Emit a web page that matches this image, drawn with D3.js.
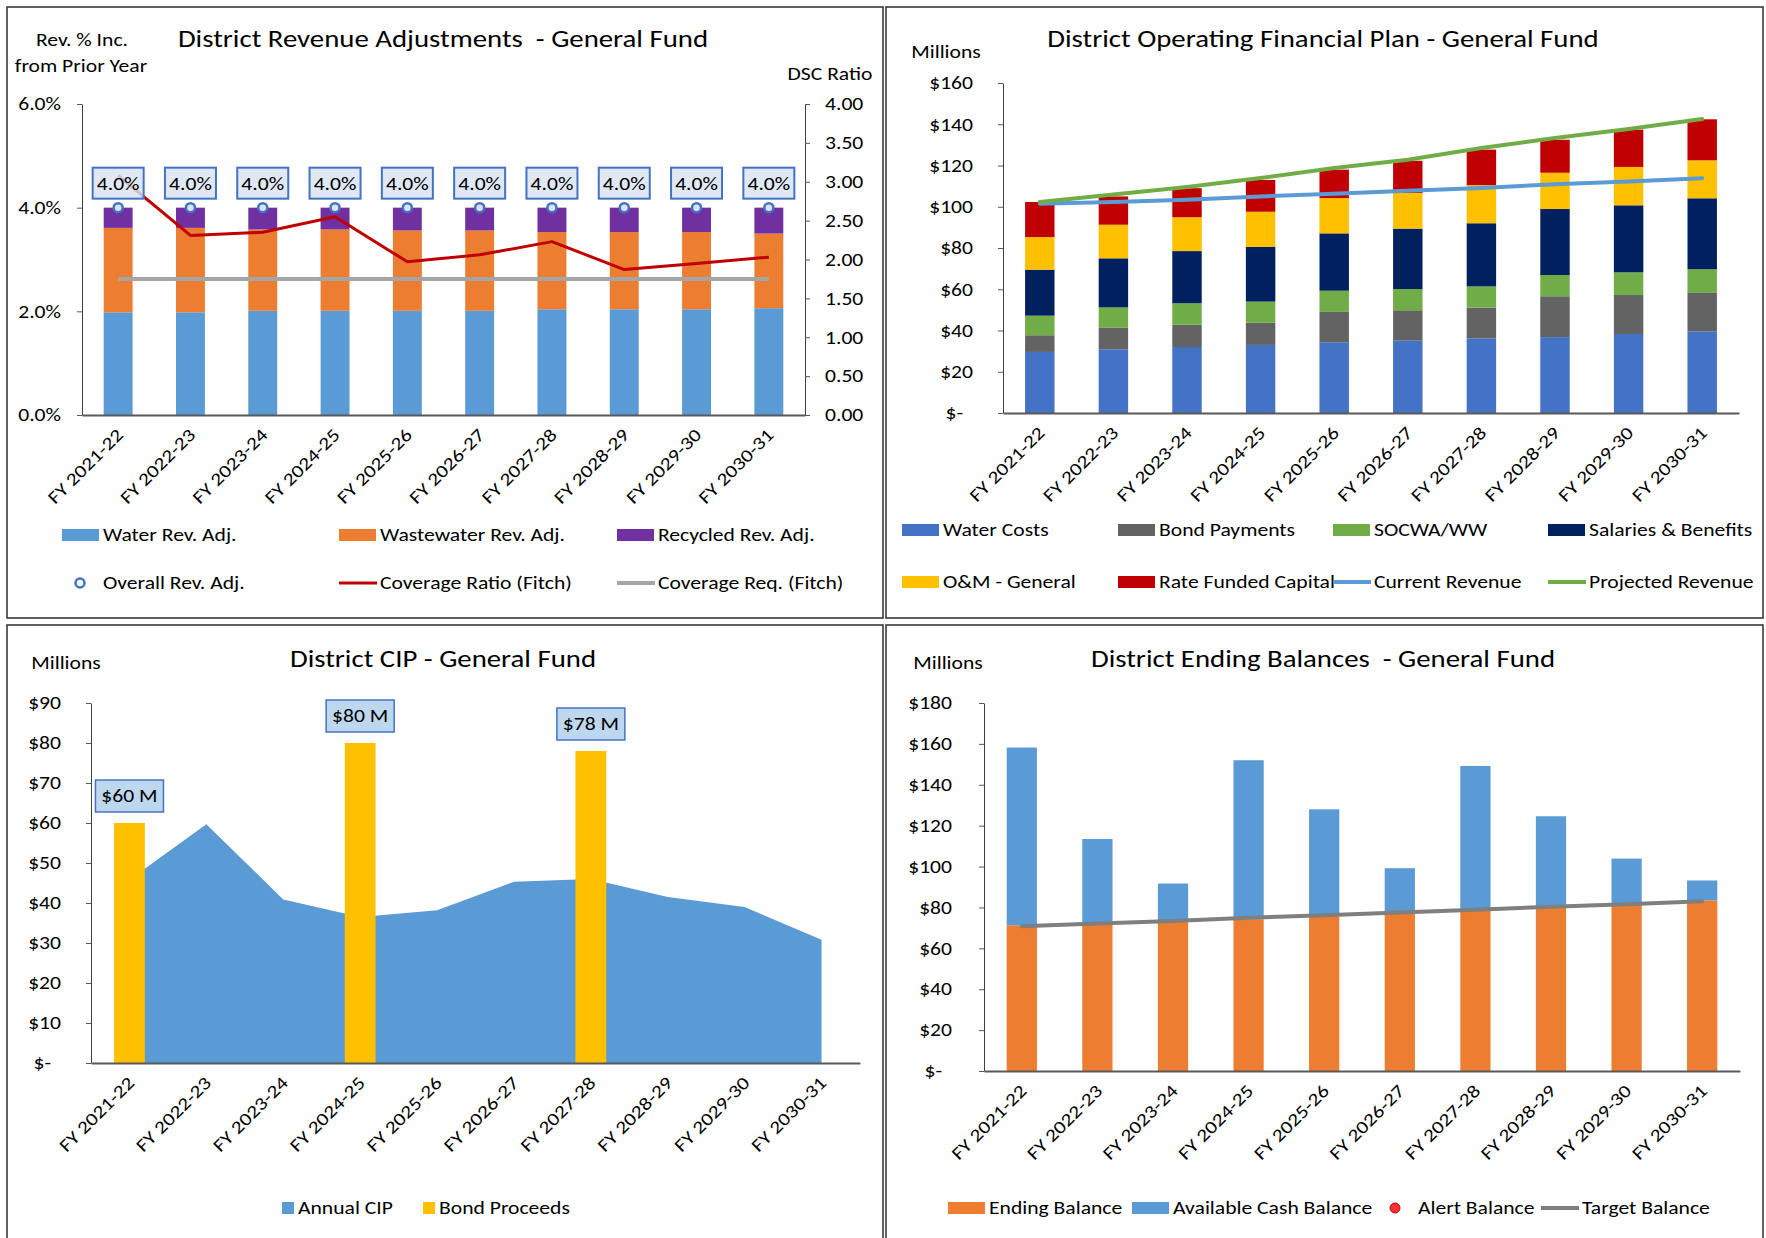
<!DOCTYPE html>
<html lang="en">
<head>
<meta charset="UTF-8" />
<title>District Financial Plan - General Fund</title>
<script src="https://d3js.org/d3.v7.min.js"></script>
<style>
  body { margin: 0; background: #fff; }
  svg { display: block; font-family: Calibri, Carlito, Lato, sans-serif; }
</style>
</head>
<body>
<svg width="1766" height="1238"></svg>
<script>
const years = ["FY 2021-22", "FY 2022-23", "FY 2023-24", "FY 2024-25", "FY 2025-26",
               "FY 2026-27", "FY 2027-28", "FY 2028-29", "FY 2029-30", "FY 2030-31"];

// revenue adjustments (% increase)
const waterAdj      = [1.98, 1.98, 2.01, 2.01, 2.01, 2.01, 2.04, 2.04, 2.04, 2.06];
const wastewaterAdj = [1.63, 1.63, 1.57, 1.57, 1.55, 1.55, 1.49, 1.49, 1.49, 1.44];
const recycledAdj   = [0.39, 0.39, 0.42, 0.42, 0.44, 0.44, 0.47, 0.47, 0.47, 0.50];
const overallAdj    = [4.0, 4.0, 4.0, 4.0, 4.0, 4.0, 4.0, 4.0, 4.0, 4.0];
const coverageRatio = [3.08, 2.31, 2.35, 2.55, 1.97, 2.06, 2.23, 1.87, 1.95, 2.03];
const coverageReq   = [1.75, 1.75, 1.75, 1.75, 1.75, 1.75, 1.75, 1.75, 1.75, 1.75];
const pctTicks = [0, 2, 4, 6];
const dscTicks = [0, 0.5, 1, 1.5, 2, 2.5, 3, 3.5, 4];

// operating plan ($M)
const waterCosts   = [29.6, 30.9, 32.0, 33.0, 34.3, 35.1, 36.2, 36.8, 38.3, 39.6];
const bondPayments = [8.1, 10.6, 10.8, 10.8, 14.7, 14.7, 14.9, 19.8, 18.9, 18.9];
const socwa        = [9.5, 9.7, 10.4, 10.2, 10.3, 10.3, 10.3, 10.3, 11.0, 11.2];
const salaries     = [22.3, 23.8, 25.3, 26.5, 27.8, 29.3, 30.6, 32.0, 32.5, 34.4];
const omGeneral    = [15.8, 16.3, 16.4, 17.1, 17.1, 17.3, 18.5, 17.6, 18.6, 18.4];
const rateFunded   = [17.0, 13.7, 14.1, 15.4, 13.8, 15.6, 17.2, 16.0, 18.1, 19.9];
const currentRev   = [101.5, 102.3, 103.4, 105.0, 106.3, 107.8, 109.1, 110.9, 112.2, 113.8];
const projectedRev = [102.3, 105.9, 109.6, 113.9, 118.8, 122.8, 128.5, 133.3, 137.7, 142.5];
const opTicks = [0, 20, 40, 60, 80, 100, 120, 140, 160];

// CIP ($M)
const annualCIP    = [45.8, 59.7, 40.9, 36.5, 38.2, 45.3, 46.0, 41.5, 39.0, 30.8];
const bondProceeds = [60, 0, 0, 80, 0, 0, 78, 0, 0, 0];
const cipTicks = [0, 10, 20, 30, 40, 50, 60, 70, 80, 90];

// ending balances ($M)
const endingBalance = [71.3, 71.8, 72.9, 74.2, 75.7, 77.0, 78.6, 80.0, 81.4, 83.5];
const availableCash = [86.9, 41.7, 18.8, 77.8, 52.3, 22.2, 70.6, 44.6, 22.5, 9.7];
const targetBalance = [70.8, 72.1, 73.4, 74.9, 76.2, 77.5, 78.9, 80.3, 81.6, 83.0];
const balTicks = [0, 20, 40, 60, 80, 100, 120, 140, 160, 180];

const svg = d3.select("svg");
const FS = 18;
const TS = 24;
const STRETCH = 1.2; // text in the source is rendered wide

function frame(x0, y0, w, h) {
  svg.append("rect").attr("x", x0).attr("y", y0).attr("width", w).attr("height", h)
    .attr("fill", "#fff").attr("stroke", "#3a3a3a").attr("stroke-width", 1.6);
}

function label(x, y, txt, size, anchor) {
  return svg.append("text").attr("x", x).attr("y", y)
    .attr("text-anchor", anchor || "middle").attr("font-size", size || FS)
    .attr("fill", "#000").text(txt);
}

function band(x0, x1) {
  return d3.scaleBand().domain(years).range([x0, x1]).paddingInner(0.6).paddingOuter(0.3);
}

function styleAxis(g) {
  g.attr("font-family", null).attr("font-size", FS).attr("color", "#000");
  g.selectAll(".tick line").attr("stroke", "#595959");
  g.select(".domain").attr("stroke", "#404040");
}

function leftAxis(y, x0, ticks, fmt, pad) {
  const g = svg.append("g").attr("transform", `translate(${x0},0)`)
    .call(d3.axisLeft(y).tickValues(ticks).tickFormat(fmt).tickSize(5).tickSizeOuter(0).tickPadding(pad));
  styleAxis(g);
  g.selectAll(".tick text").filter(d => d === 0 && fmt(0) === "$-").attr("dx", -10);
  return g;
}

function bottomAxis(x, y0) {
  const g = svg.append("g").attr("transform", `translate(0,${y0})`)
    .call(d3.axisBottom(x).tickSize(0).tickSizeOuter(0));
  styleAxis(g);
  g.select(".domain").attr("stroke", "#595959").attr("stroke-width", 2);
  g.selectAll(".tick text")
    .attr("x", 0).attr("y", 0).attr("dy", 0)
    .attr("text-anchor", "end")
    .attr("transform", "translate(6,21) rotate(-45)");
}

const money = d => d === 0 ? "$-" : "$" + d;
const mid = (x, i) => x(years[i]) + x.bandwidth() / 2;

function legendRect(x, y, color, txt, w, h) {
  w = w || 37; h = h || 12;
  svg.append("rect").attr("x", x).attr("y", y - h / 2).attr("width", w).attr("height", h).attr("fill", color);
  label(x + w + 4, y + 6, txt, FS, "start");
}
function legendLine(x, y, color, txt, sw) {
  svg.append("line").attr("x1", x).attr("x2", x + 38).attr("y1", y).attr("y2", y)
    .attr("stroke", color).attr("stroke-width", sw);
  label(x + 41, y + 6, txt, FS, "start");
}

// ---------- panel 1 : revenue adjustments ----------
frame(7, 7, 876, 611);
{
  const x = band(82, 805);
  const yL = d3.scaleLinear().domain([0, 6]).range([415, 104]);
  const yR = d3.scaleLinear().domain([0, 4]).range([415, 104]);

  label(443, 47, "District Revenue Adjustments \u00a0- General Fund", TS);
  label(82, 46, "Rev. % Inc.", FS);
  label(81, 72, "from Prior Year", FS);
  label(830, 80, "DSC Ratio", FS);

  leftAxis(yL, 82, pctTicks, d => d.toFixed(1) + "%", 16);
  const gR = svg.append("g").attr("transform", "translate(805,0)")
    .call(d3.axisRight(yR).tickValues(dscTicks).tickFormat(d => d.toFixed(2)).tickSize(5).tickSizeOuter(0).tickPadding(15));
  styleAxis(gR);

  const rows = years.map((yr, i) => ({ year: yr, water: waterAdj[i], wastewater: wastewaterAdj[i], recycled: recycledAdj[i] }));
  const stack = d3.stack().keys(["water", "wastewater", "recycled"])(rows);
  const col = { water: "#5b9bd5", wastewater: "#ed7d31", recycled: "#7030a0" };
  svg.append("g").selectAll("g").data(stack).join("g").attr("fill", d => col[d.key])
    .selectAll("rect").data(d => d).join("rect")
    .attr("x", d => x(d.data.year)).attr("width", x.bandwidth())
    .attr("y", d => yL(d[1])).attr("height", d => yL(d[0]) - yL(d[1]));

  bottomAxis(x, 415);

  const line = d3.line().x((d, i) => mid(x, i)).y(d => yR(d));
  svg.append("path").datum(coverageReq).attr("d", line).attr("fill", "none")
    .attr("stroke", "#a5a5a5").attr("stroke-width", 4);
  svg.append("path").datum(coverageRatio).attr("d", line).attr("fill", "none")
    .attr("stroke", "#c00000").attr("stroke-width", 3).attr("stroke-linejoin", "round");

  svg.append("g").selectAll("circle").data(overallAdj).join("circle")
    .attr("cx", (d, i) => mid(x, i)).attr("cy", d => yL(d)).attr("r", 4.5)
    .attr("fill", "#dae3f3").attr("stroke", "#4472c4").attr("stroke-width", 2.5);

  const lab = svg.append("g").selectAll("g").data(overallAdj).join("g")
    .attr("transform", (d, i) => `translate(${mid(x, i)},${yL(d) - 24})`);
  lab.append("rect").attr("x", -25.5).attr("y", -16).attr("width", 51).attr("height", 31)
    .attr("fill", "#dae3f3").attr("fill-opacity", 0.82).attr("stroke", "#4472c4").attr("stroke-width", 2);
  lab.append("text").attr("text-anchor", "middle").attr("y", 6).attr("font-size", FS)
    .text(d => d.toFixed(1) + "%");

  legendRect(62, 535, "#5b9bd5", "Water Rev. Adj.");
  legendRect(339, 535, "#ed7d31", "Wastewater Rev. Adj.");
  legendRect(617, 535, "#7030a0", "Recycled Rev. Adj.");
  svg.append("circle").attr("cx", 80).attr("cy", 583).attr("r", 4.5)
    .attr("fill", "#fff").attr("stroke", "#4472c4").attr("stroke-width", 2.5);
  label(103, 589, "Overall Rev. Adj.", FS, "start");
  legendLine(339, 583, "#c00000", "Coverage Ratio (Fitch)", 3);
  legendLine(617, 583, "#a5a5a5", "Coverage Req. (Fitch)", 4);
}

// ---------- panel 2 : operating financial plan ----------
frame(886, 7, 877, 611);
{
  const x = band(1003, 1739);
  const y = d3.scaleLinear().domain([0, 160]).range([413, 83]);

  label(1323, 47, "District Operating Financial Plan - General Fund", TS);
  label(946, 58, "Millions", FS);

  leftAxis(y, 1003, opTicks, money, 25);

  const keys = ["water", "bond", "socwa", "salaries", "om", "rfc"];
  const col = { water: "#4472c4", bond: "#636363", socwa: "#70ad47", salaries: "#002060", om: "#ffc000", rfc: "#c00000" };
  const rows = years.map((yr, i) => ({ year: yr, water: waterCosts[i], bond: bondPayments[i], socwa: socwa[i],
    salaries: salaries[i], om: omGeneral[i], rfc: rateFunded[i] }));
  svg.append("g").selectAll("g").data(d3.stack().keys(keys)(rows)).join("g").attr("fill", d => col[d.key])
    .selectAll("rect").data(d => d).join("rect")
    .attr("x", d => x(d.data.year)).attr("width", x.bandwidth())
    .attr("y", d => y(d[1])).attr("height", d => y(d[0]) - y(d[1]));

  bottomAxis(x, 413);

  const line = d3.line().x((d, i) => mid(x, i)).y(d => y(d));
  svg.append("path").datum(currentRev).attr("d", line).attr("fill", "none")
    .attr("stroke", "#5b9bd5").attr("stroke-width", 4).attr("stroke-linecap", "round");
  svg.append("path").datum(projectedRev).attr("d", line).attr("fill", "none")
    .attr("stroke", "#70ad47").attr("stroke-width", 4).attr("stroke-linecap", "round");

  legendRect(902, 530, col.water, "Water Costs");
  legendRect(1118, 530, col.bond, "Bond Payments");
  legendRect(1333, 530, col.socwa, "SOCWA/WW");
  legendRect(1548, 530, col.salaries, "Salaries & Benefits");
  legendRect(902, 582, col.om, "O&M - General");
  legendRect(1118, 582, col.rfc, "Rate Funded Capital");
  legendLine(1333, 582, "#5b9bd5", "Current Revenue", 4);
  legendLine(1548, 582, "#70ad47", "Projected Revenue", 4);
}

// ---------- panel 3 : CIP ----------
frame(7, 625, 876, 640);
{
  const x = band(91, 860);
  const y = d3.scaleLinear().domain([0, 90]).range([1063, 703]);

  label(443, 667, "District CIP - General Fund", TS);
  label(66, 669, "Millions", FS);

  leftAxis(y, 91, cipTicks, money, 25);

  const area = d3.area().x((d, i) => mid(x, i)).y0(y(0)).y1(d => y(d));
  svg.append("path").datum(annualCIP).attr("d", area).attr("fill", "#5b9bd5");

  const bonds = bondProceeds.map((v, i) => ({ year: years[i], v })).filter(d => d.v > 0);
  svg.append("g").selectAll("rect").data(bonds).join("rect")
    .attr("x", d => x(d.year)).attr("width", x.bandwidth())
    .attr("y", d => y(d.v)).attr("height", d => y(0) - y(d.v)).attr("fill", "#ffc000");

  bottomAxis(x, 1063);

  const lab = svg.append("g").selectAll("g").data(bonds).join("g")
    .attr("transform", d => `translate(${x(d.year) + x.bandwidth() / 2},${y(d.v) - 27})`);
  lab.append("rect").attr("x", -34).attr("y", -16).attr("width", 68).attr("height", 32)
    .attr("fill", "#bdd7ee").attr("stroke", "#4472c4").attr("stroke-width", 1.5);
  lab.append("text").attr("text-anchor", "middle").attr("y", 6).attr("font-size", FS)
    .text(d => "$" + d.v + " M");

  legendRect(282, 1208, "#5b9bd5", "Annual CIP", 12, 12);
  legendRect(423, 1208, "#ffc000", "Bond Proceeds", 12, 12);
}

// ---------- panel 4 : ending balances ----------
frame(886, 625, 877, 640);
{
  const x = band(984, 1740);
  const y = d3.scaleLinear().domain([0, 180]).range([1071, 703]);

  label(1323, 667, "District Ending Balances \u00a0- General Fund", TS);
  label(948, 669, "Millions", FS);

  leftAxis(y, 984, balTicks, money, 27);

  const rows = years.map((yr, i) => ({ year: yr, ending: endingBalance[i], available: availableCash[i] }));
  const col = { ending: "#ed7d31", available: "#5b9bd5" };
  svg.append("g").selectAll("g").data(d3.stack().keys(["ending", "available"])(rows)).join("g")
    .attr("fill", d => col[d.key])
    .selectAll("rect").data(d => d).join("rect")
    .attr("x", d => x(d.data.year)).attr("width", x.bandwidth())
    .attr("y", d => y(d[1])).attr("height", d => y(d[0]) - y(d[1]));

  bottomAxis(x, 1071);

  svg.append("path").datum(targetBalance)
    .attr("d", d3.line().x((d, i) => mid(x, i)).y(d => y(d)))
    .attr("fill", "none").attr("stroke", "#7f7f7f").attr("stroke-width", 4).attr("stroke-linecap", "round");

  legendRect(948, 1208, col.ending, "Ending Balance");
  legendRect(1132, 1208, col.available, "Available Cash Balance");
  svg.append("circle").attr("cx", 1395).attr("cy", 1208).attr("r", 5)
    .attr("fill", "#ff3333").attr("stroke", "#c00000").attr("stroke-width", 1);
  label(1418, 1214, "Alert Balance", FS, "start");
  legendLine(1541, 1208, "#7f7f7f", "Target Balance", 4);
}

// widen all text a little to match the source rendering
svg.selectAll("text").each(function () {
  const len = this.getComputedTextLength();
  d3.select(this).attr("textLength", len * STRETCH).attr("lengthAdjust", "spacingAndGlyphs");
});
</script>
</body>
</html>
